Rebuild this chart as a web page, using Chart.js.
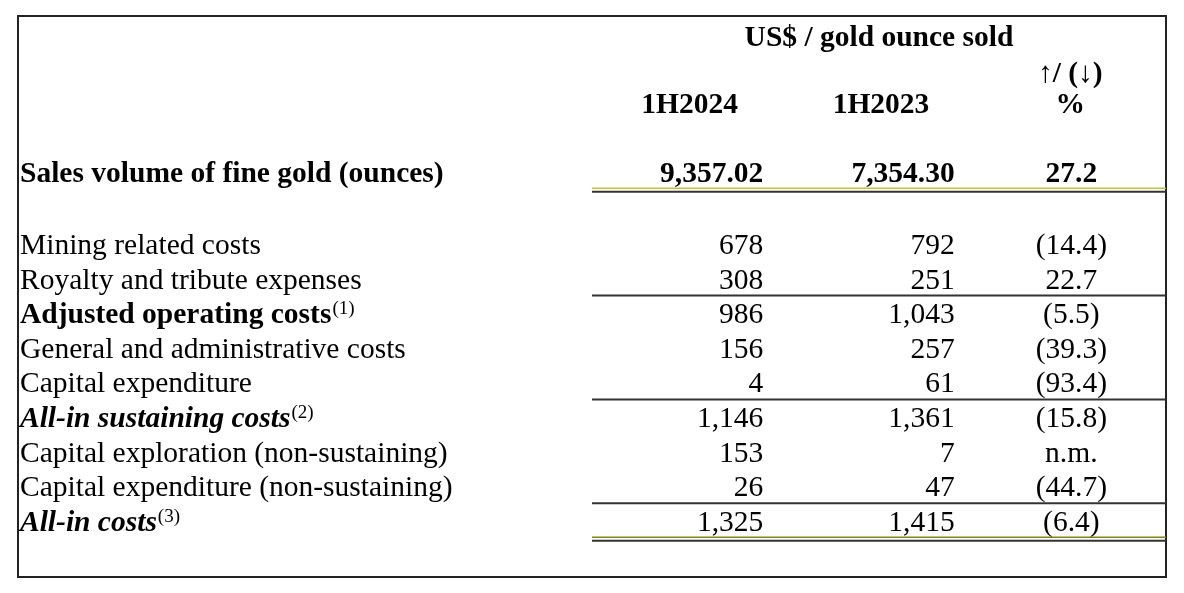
<!DOCTYPE html>
<html>
<head>
<meta charset="utf-8">
<script src="https://cdn.jsdelivr.net/npm/chart.js@4.4.1/dist/chart.umd.min.js"></script>
<style>
  html, body { margin: 0; padding: 0; background: #ffffff; }
  #wrap { width: 1184px; height: 593px; position: relative; }
</style>
</head>
<body>
<div id="wrap"><canvas id="c" width="1184" height="593"></canvas></div>
<script>
// ---------------- DATA ----------------
const title = 'US$ / gold ounce sold';
const columns = ['1H2024', '1H2023', '%'];
const changeHeader = '\u2191/ (\u2193)';
const rowLabels = [
  'Sales volume of fine gold (ounces)',
  'Mining related costs',
  'Royalty and tribute expenses',
  'Adjusted operating costs',
  'General and administrative costs',
  'Capital expenditure',
  'All-in sustaining costs',
  'Capital exploration (non-sustaining)',
  'Capital expenditure (non-sustaining)',
  'All-in costs'
];
const rowNotes = ['', '', '', '(1)', '', '', '(2)', '', '', '(3)'];
const values2024 = [9357.02, 678, 308, 986, 156, 4, 1146, 153, 26, 1325];
const values2023 = [7354.30, 792, 251, 1043, 257, 61, 1361, 7, 47, 1415];
const changePct = [27.2, -14.4, 22.7, -5.5, -39.3, -93.4, -15.8, null, -44.7, -6.4];

// ---------------- LAYOUT / STYLE ----------------
const rowKeys = ['title', 'arrow', 'period', 'gap1', 'r0', 'gap2',
  'r1', 'r2', 'r3', 'r4', 'r5', 'r6', 'r7', 'r8', 'r9'];
const dataRowKeys = ['r0','r1','r2','r3','r4','r5','r6','r7','r8','r9'];
const rowStyle = {
  r0: { weight: 'bold', italic: false, dy: -3 },
  r3: { weight: 'bold', italic: false },
  r6: { weight: 'bold', italic: true },
  r9: { weight: 'bold', italic: true }
};
const headerDy = { title: 0, arrow: 1, period: -3 };
const rulesBelow = { r0: 'double', r2: 'single', r5: 'single', r8: 'single', r9: 'double' };
const frame = { left: 18, top: 16, right: 1166, bottom: 577 };
const FONT = '"Liberation Serif", "Times New Roman", serif';
const FS = 29.5;
const CELL_PAD_RIGHT = 20;

function fmtNum(v, dec) {
  return v.toLocaleString('en-US', { minimumFractionDigits: dec, maximumFractionDigits: dec });
}
function fmtPct(v) {
  if (v === null) return 'n.m.';
  const s = Math.abs(v).toFixed(1);
  return v < 0 ? '(' + s + ')' : s;
}

const ds = [
  { label: columns[0], data: values2024.map((v, i) => ({ x: columns[0], y: dataRowKeys[i], v })) },
  { label: columns[1], data: values2023.map((v, i) => ({ x: columns[1], y: dataRowKeys[i], v })) },
  { label: columns[2], data: changePct.map((v, i) => ({ x: columns[2], y: dataRowKeys[i], v })) }
];

const tablePlugin = {
  id: 'tableText',
  afterDatasetsDraw(chart) {
    const ctx = chart.ctx;
    const xs = chart.scales.x, ys = chart.scales.y;
    ctx.save();
    // frame
    ctx.strokeStyle = '#222';
    ctx.lineWidth = 2;
    ctx.strokeRect(frame.left, frame.top, frame.right - frame.left, frame.bottom - frame.top);

    ctx.fillStyle = '#000';
    ctx.textBaseline = 'alphabetic';

    // headers
    const yT = ys.getPixelForValue(0) + headerDy.title;
    const yA = ys.getPixelForValue(1) + headerDy.arrow;
    const yP = ys.getPixelForValue(2) + headerDy.period;
    ctx.font = 'bold ' + FS + 'px ' + FONT;
    ctx.textAlign = 'center';
    const cx0 = xs.getPixelForValue(0), cx2 = xs.getPixelForValue(2);
    ctx.fillText(title, (cx0 + cx2) / 2, yT);
    ctx.fillText(changeHeader, xs.getPixelForValue(2), yA);
    columns.forEach((c, i) => ctx.fillText(c, xs.getPixelForValue(i) + (i < 2 ? 2 : 0), yP));

    // row labels
    dataRowKeys.forEach((k, i) => {
      const st = rowStyle[k] || { weight: 'normal', italic: false };
      const y = ys.getPixelForValue(rowKeys.indexOf(k)) + (st.dy || 0);
      ctx.font = (st.italic ? 'italic ' : '') + st.weight + ' ' + FS + 'px ' + FONT;
      ctx.textAlign = 'left';
      const x0 = frame.left + 2;
      ctx.fillText(rowLabels[i], x0, y);
      if (rowNotes[i]) {
        const w = ctx.measureText(rowLabels[i]).width;
        ctx.font = 'normal 19px ' + FONT;
        ctx.fillText(rowNotes[i], x0 + w + 1, y - 9);
      }
    });

    // cells
    const colHalf = (xs.getPixelForValue(1) - xs.getPixelForValue(0)) / 2;
    chart.data.datasets.forEach((d, di) => {
      const meta = chart.getDatasetMeta(di);
      meta.data.forEach((el, i) => {
        const raw = d.data[i];
        const st = rowStyle[raw.y] || { weight: 'normal' };
        const y = el.y + (st.dy || 0);
        ctx.font = (raw.y === 'r0' ? 'bold ' : 'normal ') + FS + 'px ' + FONT;
        if (di < 2) {
          ctx.textAlign = 'right';
          ctx.fillText(fmtNum(raw.v, raw.y === 'r0' ? 2 : 0), el.x + colHalf - CELL_PAD_RIGHT, y);
        } else {
          ctx.textAlign = 'center';
          ctx.fillText(raw.y === 'r0' ? fmtNum(raw.v, 1) : fmtPct(raw.v), el.x + 1, y);
        }
      });
    });

    // rules
    const rx0 = xs.left, rx1 = frame.right;
    Object.keys(rulesBelow).forEach(k => {
      const st = rowStyle[k] || {};
      const base = ys.getPixelForValue(rowKeys.indexOf(k)) + (st.dy || 0);
      if (rulesBelow[k] === 'single') {
        ctx.strokeStyle = '#333';
        ctx.lineWidth = 2;
        ctx.beginPath(); ctx.moveTo(rx0, base + 7); ctx.lineTo(rx1, base + 7); ctx.stroke();
      } else {
        ctx.strokeStyle = k === 'r0' ? '#c2c23a' : '#85850f';
        ctx.lineWidth = 1.5;
        ctx.beginPath(); ctx.moveTo(rx0, base + 6.5); ctx.lineTo(rx1, base + 6.5); ctx.stroke();
        ctx.strokeStyle = '#333';
        ctx.lineWidth = 2;
        ctx.beginPath(); ctx.moveTo(rx0, base + 10); ctx.lineTo(rx1, base + 10); ctx.stroke();
      }
    });
    ctx.restore();
  }
};

new Chart(document.getElementById('c'), {
  type: 'scatter',
  data: { datasets: ds },
  options: {
    responsive: false,
    animation: false,
    devicePixelRatio: 1,
    layout: { padding: { left: 592, right: 1184 - frame.right, top: 46.4, bottom: 593 - 530.8 } },
    elements: { point: { radius: 0, hoverRadius: 0 } },
    plugins: { legend: { display: false }, tooltip: { enabled: false } },
    scales: {
      x: { type: 'category', labels: columns, offset: true, display: false },
      y: { type: 'category', labels: rowKeys, offset: false, display: false }
    }
  },
  plugins: [tablePlugin]
});
</script>
</body>
</html>
